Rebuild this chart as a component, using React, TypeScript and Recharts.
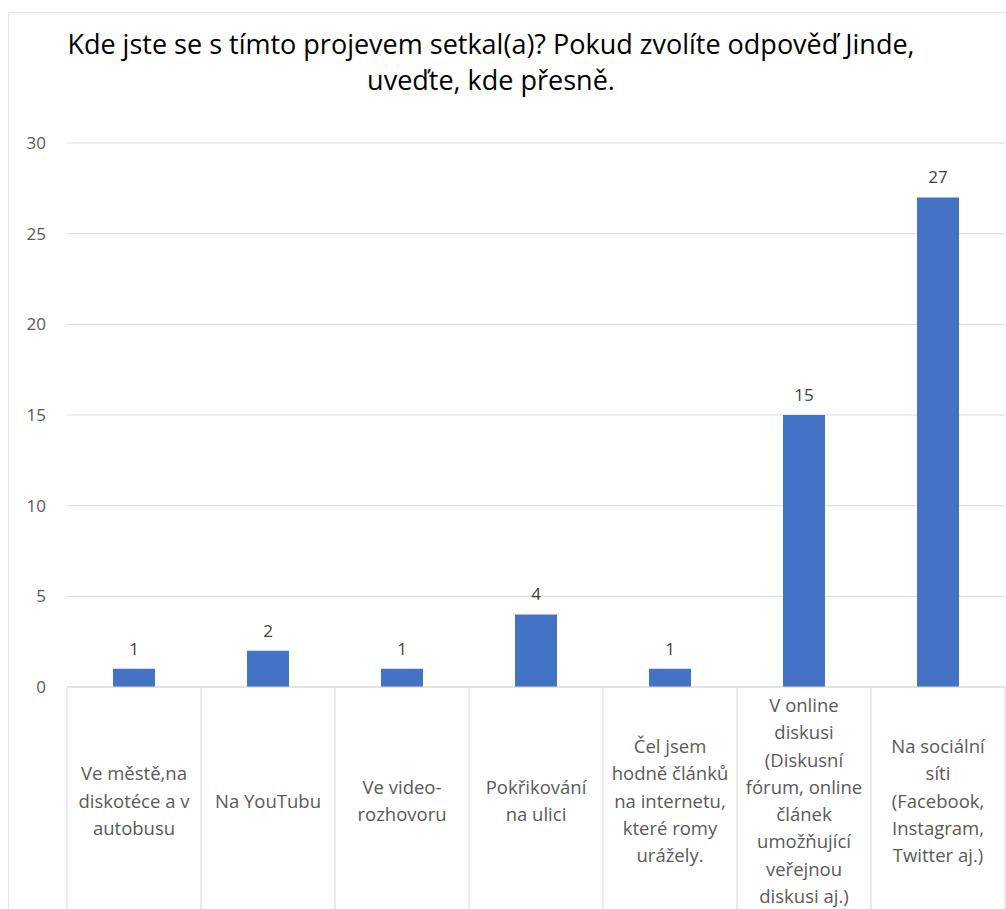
import React from "react";
import { BarChart, Bar, XAxis, YAxis, CartesianGrid, LabelList } from "recharts";

const categories = [
  "Ve městě,na diskotéce a v autobusu",
  "Na YouTubu",
  "Ve video-rozhovoru",
  "Pokřikování na ulici",
  "Čel jsem hodně článků na internetu, které romy urážely.",
  "V online diskusi (Diskusní fórum, online článek umožňující veřejnou diskusi aj.)",
  "Na sociální síti (Facebook, Instagram, Twitter aj.)",
];
const tickLines = [
  ["Ve městě,na", "diskotéce a v", "autobusu"],
  ["Na YouTubu"],
  ["Ve video-", "rozhovoru"],
  ["Pokřikování", "na ulici"],
  ["Čel jsem", "hodně článků", "na internetu,", "které romy", "urážely."],
  ["V online", "diskusi", "(Diskusní", "fórum, online", "článek", "umožňující", "veřejnou", "diskusi aj.)"],
  ["Na sociální", "síti", "(Facebook,", "Instagram,", "Twitter aj.)"],
];
const values = [1, 2, 1, 4, 1, 15, 27];
const yTicks = [0, 5, 10, 15, 20, 25, 30];
const title1 = "Kde jste se s tímto projevem setkal(a)? Pokud zvolíte odpověď Jinde,";
const title2 = "uveďte, kde přesně.";

const data = categories.map((c, i) => ({ name: c, value: values[i], idx: i }));

const W = 1006;
const H = 909;
const M = { top: 143, right: 1, bottom: 0, left: 0 };
const Y_W = 67;
const X_H = 222;
const BAND = (W - M.right - M.left - Y_W) / categories.length;
const FONT = "'Open Sans', sans-serif";

const XTick = (props: any) => {
  const { x, y, index } = props;
  const lines = tickLines[index] || [];
  const lh = 27.3;
  const center = y + 113;
  const start = center - ((lines.length - 1) * lh) / 2;
  const left = x - BAND / 2;
  const right = x + BAND / 2;
  return (
    <g>
      <line x1={left} x2={left} y1={y} y2={y + X_H} stroke="#d9d9d9" strokeWidth={1} />
      {index === categories.length - 1 && (
        <line x1={right} x2={right} y1={y} y2={y + X_H} stroke="#d9d9d9" strokeWidth={1} />
      )}
      <text textAnchor="middle" fill="#595959" fontSize={18.5} fontFamily={FONT}>
        {lines.map((l, i) => (
          <tspan key={i} x={x} y={start + i * lh} dominantBaseline="central">
            {l}
          </tspan>
        ))}
      </text>
    </g>
  );
};

export default function App() {
  return (
    <div style={{ position: "absolute", left: 0, top: 0, width: W, height: H, background: "#fff", overflow: "hidden" }}>
      <div
        style={{
          position: "absolute",
          left: 8,
          top: 12,
          width: W,
          height: H,
          border: "1px solid #e3e3e3",
          boxSizing: "border-box",
        }}
      />
      <div
        style={{
          position: "absolute",
          left: 0,
          width: 982,
          top: 26,
          textAlign: "center",
          fontFamily: FONT,
          fontSize: 27,
          lineHeight: "36px",
          color: "#000",
        }}
      >
        <div>{title1}</div>
        <div>{title2}</div>
      </div>
      <div style={{ position: "absolute", left: 0, top: 0 }}>
        <BarChart width={W} height={H} data={data} margin={M} barSize={42}>
          <CartesianGrid vertical={false} stroke="#d9d9d9" strokeWidth={1} />
          <XAxis
            dataKey="name"
            height={X_H}
            interval={0}
            tickLine={false}
            tickSize={0}
            tickMargin={0}
            axisLine={{ stroke: "#d9d9d9" }}
            tick={<XTick />}
          />
          <YAxis
            width={Y_W}
            domain={[0, 30]}
            ticks={yTicks}
            axisLine={false}
            tickLine={false}
            tickSize={0}
            tickMargin={21}
            tick={{ fill: "#595959", fontSize: 17, fontFamily: FONT }}
          />
          <Bar dataKey="value" fill="#4472C4" isAnimationActive={false}>
            <LabelList dataKey="value" position="top" offset={14} fill="#404040" fontSize={17} fontFamily={FONT} />
          </Bar>
        </BarChart>
      </div>
    </div>
  );
}
